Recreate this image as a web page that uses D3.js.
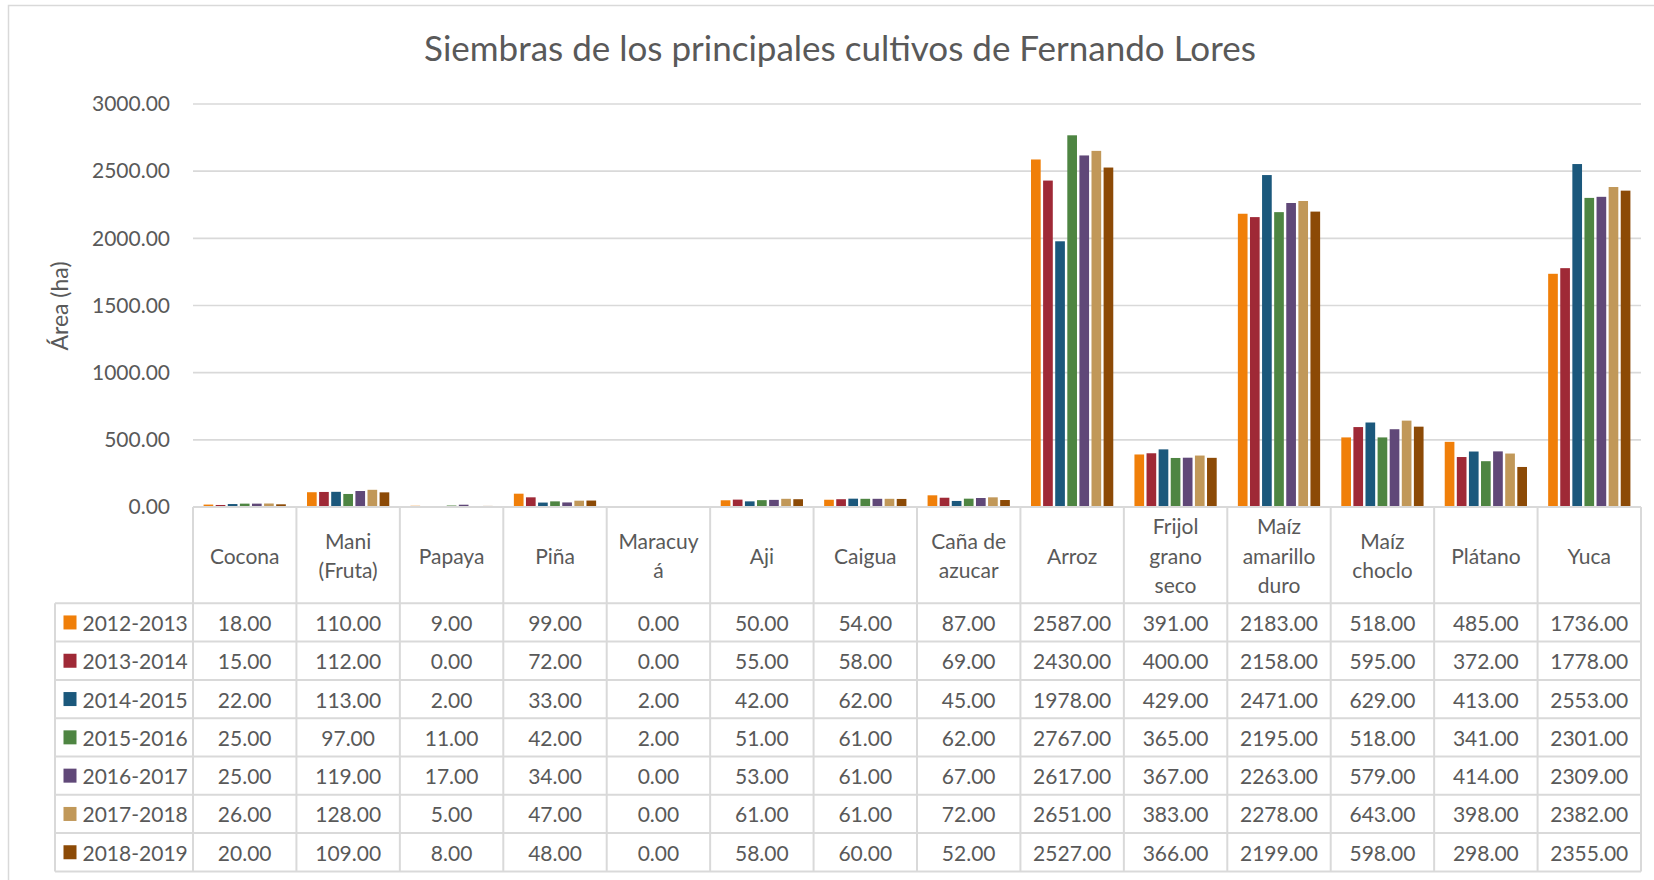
<!DOCTYPE html>
<html>
<head>
<meta charset="utf-8">
<script src="https://cdn.jsdelivr.net/npm/d3@7"></script>
<style>
  html, body { margin: 0; padding: 0; background: #fff; }
  svg { display: block; }
  text { font-family: Lato, "Open Sans", sans-serif; fill: #595959; }
</style>
</head>
<body>
<svg id="chart" width="1654" height="880"></svg>
<script>
// ---------- DATA ----------
const categories = ["Cocona","Mani (Fruta)","Papaya","Piña","Maracuyá","Aji","Caigua","Caña de azucar","Arroz","Frijol grano seco","Maíz amarillo duro","Maíz choclo","Plátano","Yuca"];
const categoryLines = [["Cocona"],["Mani","(Fruta)"],["Papaya"],["Piña"],["Maracuy","á"],["Aji"],["Caigua"],["Caña de","azucar"],["Arroz"],["Frijol","grano","seco"],["Maíz","amarillo","duro"],["Maíz","choclo"],["Plátano"],["Yuca"]];
const seriesNames = ["2012-2013","2013-2014","2014-2015","2015-2016","2016-2017","2017-2018","2018-2019"];
const v2012 = [18,110,9,99,0,50,54,87,2587,391,2183,518,485,1736];
const v2013 = [15,112,0,72,0,55,58,69,2430,400,2158,595,372,1778];
const v2014 = [22,113,2,33,2,42,62,45,1978,429,2471,629,413,2553];
const v2015 = [25,97,11,42,2,51,61,62,2767,365,2195,518,341,2301];
const v2016 = [25,119,17,34,0,53,61,67,2617,367,2263,579,414,2309];
const v2017 = [26,128,5,47,0,61,61,72,2651,383,2278,643,398,2382];
const v2018 = [20,109,8,48,0,58,60,52,2527,366,2199,598,298,2355];
const seriesValues = [v2012, v2013, v2014, v2015, v2016, v2017, v2018];
const yTicks = [0,500,1000,1500,2000,2500,3000];
const colors = ["#F07F09","#9F2936","#1B587C","#4E8542","#604878","#C19859","#8C4A06"];
const titleText = "Siembras de los principales cultivos de Fernando Lores";
const yLabel = "Área (ha)";

// ---------- LAYOUT ----------
const svg = d3.select("#chart");
const plotL = 193, plotR = 1641, plotT = 104, plotB = 507;
const legendL = 55;
const headerB = 603.3, rowH = 38.3;
const gridColor = "#d9d9d9";
const fmt = d3.format(".2f");

// outer frame
svg.append("rect").attr("x", 8.5).attr("y", 5.5).attr("width", 1660).attr("height", 900)
  .attr("fill", "none").attr("stroke", gridColor).attr("stroke-width", 1.5);

const x0 = d3.scaleBand().domain(categories).range([plotL, plotR]).padding(0);
const x1 = d3.scaleBand().domain(seriesNames).range([0, x0.bandwidth()])
  .paddingInner(0.2).paddingOuter(0.875);
const y = d3.scaleLinear().domain([0, 3000]).range([plotB, plotT]);

// gridlines
svg.append("g").selectAll("line").data(yTicks.filter(d => d > 0)).join("line")
  .attr("x1", plotL).attr("x2", plotR)
  .attr("y1", d => y(d)).attr("y2", d => y(d))
  .attr("stroke", gridColor).attr("stroke-width", 1.6);

// y axis labels
const yAxis = d3.axisLeft(y).tickValues(yTicks).tickFormat(fmt).tickSize(0).tickPadding(0);
const gy = svg.append("g").attr("transform", `translate(170,0)`).call(yAxis);
gy.select(".domain").remove();
gy.selectAll("text").attr("font-size", 21).attr("font-family", "Lato").attr("fill", "#595959");

// title
svg.append("text").attr("x", 840).attr("y", 61).attr("text-anchor", "middle")
  .attr("font-size", 35).text(titleText);

// y label
svg.append("text").attr("transform", "translate(68,306) rotate(-90)")
  .attr("text-anchor", "middle").attr("font-family", "Open Sans").attr("font-size", 23)
  .text(yLabel);

// bars
const groups = svg.append("g").selectAll("g").data(categories).join("g")
  .attr("transform", d => `translate(${x0(d)},0)`);
groups.selectAll("rect").data((c, ci) => seriesNames.map((s, si) => ({s, si, v: seriesValues[si][ci]})))
  .join("rect")
  .attr("x", d => x1(d.s)).attr("width", x1.bandwidth())
  .attr("y", d => y(d.v)).attr("height", d => plotB - y(d.v))
  .attr("fill", d => colors[d.si]);

// ---------- TABLE ----------
const tableB = headerB + rowH * seriesNames.length;
const tg = svg.append("g");
// baseline / top of table
tg.append("line").attr("x1", plotL).attr("x2", plotR).attr("y1", plotB).attr("y2", plotB)
  .attr("stroke", gridColor).attr("stroke-width", 2);
// vertical column lines
const colEdges = categories.map(c => x0(c)).concat([plotR]);
tg.selectAll("line.v").data(colEdges).join("line").attr("class", "v")
  .attr("x1", d => d).attr("x2", d => d).attr("y1", plotB).attr("y2", tableB)
  .attr("stroke", gridColor).attr("stroke-width", 2);
// legend column left edge
tg.append("line").attr("x1", legendL).attr("x2", legendL).attr("y1", headerB).attr("y2", tableB)
  .attr("stroke", gridColor).attr("stroke-width", 2);
// horizontal row lines
const rowEdges = d3.range(seriesNames.length + 1).map(i => headerB + i * rowH);
tg.selectAll("line.h").data(rowEdges).join("line").attr("class", "h")
  .attr("x1", legendL).attr("x2", plotR).attr("y1", d => d).attr("y2", d => d)
  .attr("stroke", gridColor).attr("stroke-width", 2);

// header labels
const headerMid = (plotB + headerB) / 2;
const lineH = 29.3;
categories.forEach((c, ci) => {
  const lines = categoryLines[ci];
  const cx = x0(c) + x0.bandwidth() / 2;
  const t = tg.append("text").attr("text-anchor", "middle").attr("font-size", 21);
  lines.forEach((ln, li) => {
    t.append("tspan").attr("x", cx)
      .attr("y", headerMid + (li - (lines.length - 1) / 2) * lineH)
      .attr("dominant-baseline", "central").text(ln);
  });
});

// rows
seriesNames.forEach((s, si) => {
  const cy = headerB + rowH * (si + 0.5);
  tg.append("rect").attr("x", 63.5).attr("y", cy - 7).attr("width", 13).attr("height", 14)
    .attr("fill", colors[si]);
  tg.append("text").attr("x", 82.5).attr("y", cy).attr("dominant-baseline", "central")
    .attr("font-size", 21).text(s);
  categories.forEach((c, ci) => {
    tg.append("text").attr("x", x0(c) + x0.bandwidth() / 2).attr("y", cy)
      .attr("text-anchor", "middle").attr("dominant-baseline", "central")
      .attr("font-size", 21).text(fmt(seriesValues[si][ci]));
  });
});
</script>
</body>
</html>
